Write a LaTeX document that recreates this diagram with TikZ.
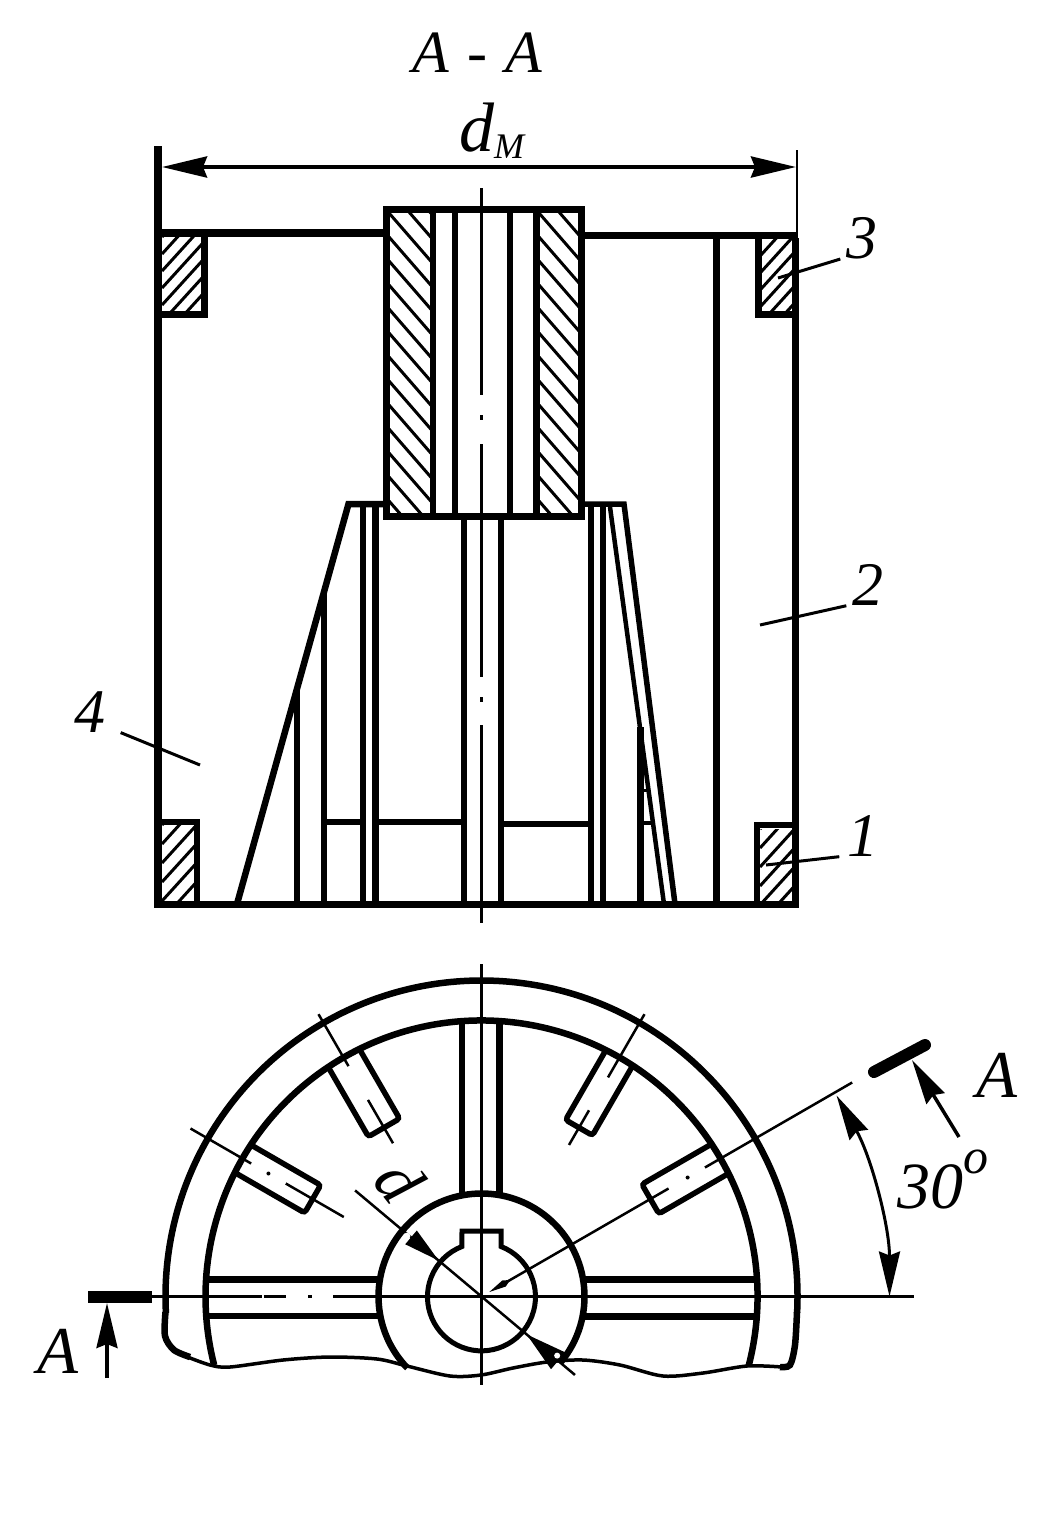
\documentclass[tikz,border=0pt]{standalone}
\usepackage{fontspec}
\setmainfont{Liberation Serif}
\usetikzlibrary{arrows.meta}
\newcommand\hatchbox[6]{
  \begin{scope}
    \clip (#1,#2) rectangle (#3,#4) ;
    \foreach \k in {-8,...,24}
      \draw[hatchline] (#1,#2+\k*#5) -- ++(80,#6*80) ;
  \end{scope}
}
\newcommand\radslot[2]{
  \begin{scope}[rotate=#1]
    \draw[slotline] (276,#2) -- (195,#2) -- (195,-#2) -- (276,-#2) ;
  \end{scope}
}
\tikzset{
  wall/.style={line width=7pt},
  rib/.style={line width=6.5pt},
  rimline/.style={line width=6.5pt},
  slotline/.style={line width=5.5pt, rounded corners=3pt},
  breakline/.style={line width=3.5pt},
  axisline/.style={line width=3pt},
  thinaxis/.style={line width=2.5pt},
  hatchline/.style={line width=3pt},
  leader/.style={line width=3pt},
  bigtip/.tip={Stealth[length=45pt, width=21pt, inset=4pt]},
  sectiontip/.tip={Stealth[length=45pt, width=21pt, inset=4pt]},
  lbl/.style={font=\itshape\fontsize{62}{64}\selectfont, inner sep=0pt},
  titlelbl/.style={font=\itshape\fontsize{60}{62}\selectfont, inner sep=0pt},
  sectionlbl/.style={font=\itshape\fontsize{67}{69}\selectfont, inner sep=0pt},
  wheel/.style={shift={(481.5,1296.5)}, y=1pt},
}
\begin{document}
\begin{tikzpicture}[x=1pt, y=-1pt]
    \useasboundingbox (0,0) rectangle (1050,1535) ;

    \hatchbox{162}{237}{202}{312}{17}{-1.1}
    \hatchbox{761}{238}{792}{312}{17}{-1.1}
    \hatchbox{162}{825}{195}{901}{19}{-1.1}
    \hatchbox{760}{829}{792}{901}{19}{-1.1}

    \draw[line width=8pt] (158,146) -- (158,908) ;
    \draw[wall] (795,238) -- (795,908) ;
    \draw[line width=2pt] (796.5,150) -- (796.5,238) ;
    \draw[line width=8pt] (158,233) -- (384,233) ;
    \draw[wall] (583,235) -- (798,235) ;
    \draw[wall] (154,904) -- (798.5,904) ;
    \draw[wall] (716,238) -- (716,904) ;

    \draw[rib] (162,314.5) -- (204.5,314.5) -- (204.5,235) ;
    \draw[rib] (792,314.5) -- (758.5,314.5) -- (758.5,238) ;
    \draw[rib] (162,822) -- (197,822) -- (197,902) ;
    \draw[rib] (792,825) -- (757,825) -- (757,902) ;

    \draw[rib] (237,904) -- (348.5,504) -- (383,504) ;
    \draw[line width=5.5pt] (584,504) -- (624,504) -- (675,904) ;
    \draw[line width=4.5pt] (610,507) -- (664,904) ;
    \foreach \px/\ptop in {297/688, 324/592, 363/504, 375.5/504, 464/518, 501/518, 591/504, 603/504, 640.5/727}
      \draw[rib] (\px,\ptop) -- (\px,904) ;
    \draw[rib] (324,822) -- (363,822) ;
    \draw[rib] (375.5,822) -- (464,822) ;
    \draw[rib] (501,824) -- (591,824) ;
    \draw[line width=4pt] (640,823) -- (651,823) ;
    \draw[line width=3pt] (640,790) -- (647,790) ;

    \draw[wall, fill=white] (386.5,209.5) rectangle (581,516.5) ;
    \hatchbox{389}{213}{431}{514}{24}{1.15}
    \hatchbox{539}{213}{579}{514}{24}{1.15}
    \foreach \px in {433, 455, 510, 536.5}
      \draw[rib] (\px,213) -- (\px,514) ;

    \foreach \ya/\yb in {188/395, 415/420, 444/513, 520/677, 697/702, 725/923}
      \draw[axisline] (481.5,\ya) -- (481.5,\yb) ;

    \node[titlelbl] (sectitle) at (477.5,53) {A\hspace{3pt} - \hspace{3pt}A} ;
    \node[titlelbl, font=\itshape\fontsize{70}{72}\selectfont] (dimlabel) at (491.5,130.5) {d\lower7pt\hbox{\fontsize{36}{36}\selectfont M}} ;
    \node[lbl] (lblthree) at (862,238) {3} ;
    \node[lbl] (lbltwo) at (868,585) {2} ;
    \node[lbl] (lblfour) at (90,712) {4} ;
    \node[lbl] (lblone) at (863,836) {1} ;
    \node[sectionlbl] (secright) at (997,1075) {A} ;
    \node[sectionlbl] (secleft) at (58,1351) {A} ;
    \node[lbl, font=\itshape\fontsize{66}{68}\selectfont] (anglelabel) at (942.5,1180) {30\raise35pt\hbox{\fontsize{50}{50}\selectfont o}} ;
    \node[sectionlbl, rotate=-52] (diamlabel) at (400,1181) {d} ;

    \coordinate (dimleft) at (162,167) ;
    \coordinate (dimright) at (796,167) ;
    \draw[line width=4pt, bigtip-bigtip] (dimleft) -- (dimright) ;

    \coordinate (tipthree) at (778,278) ;
    \coordinate (tiptwo) at (760,625) ;
    \coordinate (tipfour) at (200,765) ;
    \coordinate (tipone) at (766,865) ;
    \draw[leader] ([xshift=-6pt]lblthree.south west) -- (tipthree) ;
    \draw[leader] ([xshift=-6pt]lbltwo.south west) -- (tiptwo) ;
    \draw[leader] ([xshift=15pt]lblfour.south east) -- (tipfour) ;
    \draw[leader] ([xshift=-8pt]lblone.south west) -- (tipone) ;

    \begin{scope}[wheel]
      \draw[rimline] (-3:316) arc (-3:183:316) ;
      \draw[rimline] (-14.5:276) arc (-14.5:194.4:276) ;
      \draw[rimline] (-40:103) arc (-40:224:103) ;
      \draw[line width=5pt] (19.5,65.5) -- (19.5,50) arc (68.8:-248.8:54)
        -- (-19.5,65.5) -- cycle ;

      \draw[rib] (-19.5,276) -- (-19.5,103) ;
      \draw[rib] (18,276) -- (18,103) ;
      \draw[rib] (-276,17) -- (-102,17) ;
      \draw[rib] (-276,-19.5) -- (-102,-19.5) ;
      \draw[rib] (102,17) -- (276,17) ;
      \draw[rib] (102,-20) -- (276,-20) ;

      \radslot{30}{17}
      \radslot{60}{15.5}
      \radslot{120}{18}
      \radslot{150}{16}

      \foreach \ang/\ra/\rb in {30/28/216, 30/258/428, 60/175/215, 60/253/326, 120/177/227, 120/266/326, 150/159/226, 150/266/336}
        \draw[thinaxis] (\ang:\ra) -- (\ang:\rb) ;
      \fill (30:238) circle (2pt) ;
      \fill (150:246) circle (2pt) ;

      \begin{scope}[rotate=30]
        \fill (9,0) -- (26,3.5) -- (33,0) -- (26,-3.5) -- cycle ;
      \end{scope}

      \draw[thinaxis] (140:0) -- (140:165) ;
      \draw[thinaxis] (-40:0) -- (-40:122) ;
      \begin{scope}[rotate=140]
        \fill (56,0) -- (92,9) -- (92,-9) -- cycle ;
      \end{scope}
      \begin{scope}[rotate=-40]
        \fill (59,0) -- (100,11) -- (100,-11) -- cycle ;
      \end{scope}
      \fill[white] (141:96) circle (3.5pt) ;
      \fill[white] (-38:96) circle (3pt) ;

      \draw[line width=3pt, bigtip-bigtip] (29.5:408) arc (29.5:0:408) ;
    \end{scope}

    \draw[rimline] plot[smooth] coordinates {(165.5,1312) (165,1336) (174,1350) (190,1357)} ;
    \draw[rimline] plot[smooth] coordinates {(797,1312) (795,1345) (790,1365) (780,1367)} ;
    \draw[breakline] plot[smooth] coordinates {(185,1356) (210,1365) (230,1367) (283,1360) (330,1357) (377,1359) (407,1366) (450,1376) (481,1375) (513,1368) (547,1362) (583,1360) (620,1365) (663,1376) (703,1373) (747,1366) (782,1367)} ;

    \draw[axisline] (481.5,964) -- (481.5,1385) ;
    \foreach \xa/\xb in {150/262, 263.5/286, 308/312, 333/914}
      \draw[thinaxis] (\xa,1296.5) -- (\xb,1296.5) ;

    \draw[line width=12pt] (88,1297) -- (152,1297) ;
    \draw[line width=12pt, line cap=round] (874,1072) -- (925,1045) ;
    \coordinate (arrowlefttail) at (107,1378) ;
    \coordinate (arrowlefttip) at (107,1303) ;
    \coordinate (arrowrighttail) at (959,1137) ;
    \coordinate (arrowrighttip) at (912,1060) ;
    \draw[leader, line width=3.5pt, -sectiontip] (arrowlefttail) -- (arrowlefttip) ;
    \draw[leader, line width=3.5pt, -sectiontip] (arrowrighttail) -- (arrowrighttip) ;
\end{tikzpicture}
\end{document}
